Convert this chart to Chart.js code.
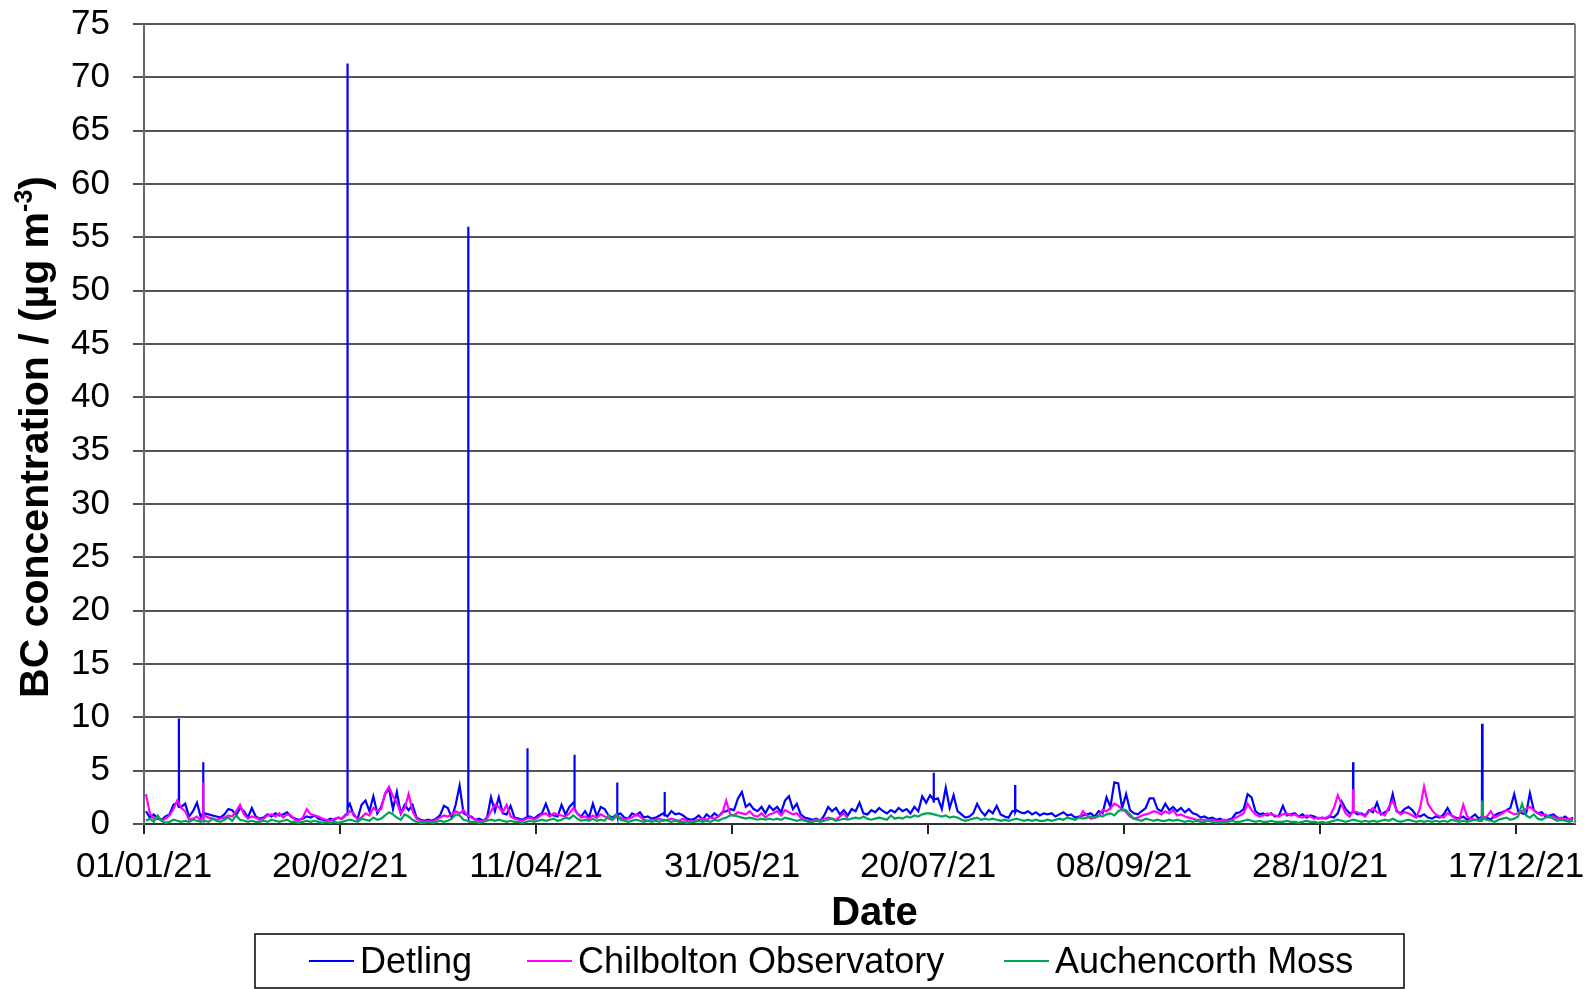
<!DOCTYPE html>
<html>
<head>
<meta charset="utf-8">
<script src="https://cdn.jsdelivr.net/npm/chart.js@4"></script>
<style>
  html, body { margin: 0; padding: 0; background: #fff; }
  #wrap { width: 1590px; height: 989px; position: relative; }
</style>
</head>
<body>
<div id="wrap"><canvas id="bcChart"></canvas></div>
<script>
// BC concentration 2021, day-of-year axis (0 = 01/01/21)
const tickDays = [0, 50, 100, 150, 200, 250, 300, 350];
const tickLabels = ["01/01/21", "20/02/21", "11/04/21", "31/05/21", "20/07/21", "08/09/21", "28/10/21", "17/12/21"];
const seriesNames = ["Detling", "Chilbolton Observatory", "Auchencorth Moss"];

// daily values, µg m-3
const detling = [
  1.2, 0.6, 0.9, 0.5, 0.4, 0.7, 0.9, 1.8, 2.0, 1.6,
  1.9, 0.7, 1.2, 2.0, 0.6, 1.0, 0.9, 0.8, 0.7, 0.6,
  0.9, 1.4, 1.3, 0.8, 1.5, 1.2, 0.6, 1.5, 0.7, 0.5,
  0.6, 0.9, 0.7, 1.0, 0.8, 0.9, 1.1, 0.7, 0.5, 0.4,
  0.5, 0.7, 0.6, 0.8, 0.5, 0.4, 0.3, 0.5, 0.4, 0.6,
  0.5, 0.9, 1.9, 0.8, 0.5, 1.8, 2.2, 1.2, 2.6, 1.0,
  1.6, 2.8, 3.3, 1.4, 3.0, 1.0, 1.8, 1.3, 1.8, 0.6,
  0.4, 0.3, 0.4, 0.3, 0.5, 0.8, 1.7, 1.5, 0.6, 1.8,
  3.6, 1.0, 0.8, 0.7, 0.4, 0.5, 0.3, 0.6, 2.5, 1.2,
  2.5, 1.0, 0.9, 1.7, 0.6, 0.5, 0.4, 0.6, 0.7, 0.5,
  0.8, 1.0, 1.9, 0.9, 0.8, 0.7, 1.8, 0.9, 1.6, 2.0,
  1.0, 0.7, 1.2, 0.6, 1.9, 0.7, 1.6, 1.4, 0.8, 0.6,
  0.9, 1.0, 0.6, 0.5, 1.0, 0.8, 1.1, 0.6, 0.7, 0.5,
  0.6, 0.8, 1.0, 0.7, 1.2, 0.9, 1.0, 0.8, 0.5, 0.4,
  0.5, 0.8, 0.4, 0.9, 0.6, 1.0, 0.7, 1.1, 1.2, 1.4,
  1.3, 2.4, 3.0, 1.6, 1.9, 1.4, 1.2, 1.6, 1.0, 1.7,
  1.3, 1.6, 1.1, 2.2, 2.6, 1.4, 1.9, 0.9, 0.6, 0.5,
  0.4, 0.5, 0.3, 0.8, 1.6, 1.2, 1.5, 0.9, 1.3, 0.8,
  1.4, 1.2, 2.0, 1.0, 0.9, 1.3, 1.1, 1.5, 1.2, 1.0,
  1.3, 1.1, 1.5, 1.2, 1.4, 1.0, 1.6, 1.2, 2.6, 2.0,
  2.7, 2.3, 2.4, 1.4, 3.4, 1.5, 2.7, 1.2, 0.9, 0.6,
  0.7, 1.0, 1.9, 1.2, 0.8, 1.3, 1.0, 1.7, 0.9, 0.7,
  0.6, 1.2, 1.3, 1.1, 1.0, 1.2, 0.9, 1.1, 0.8, 1.0,
  0.9, 1.0, 0.7, 0.9, 1.1, 0.8, 0.9, 0.6, 0.7, 0.8,
  0.9, 1.0, 0.7, 1.2, 1.0, 2.5, 1.6, 3.9, 3.8, 1.5,
  2.8, 1.3, 1.0, 0.9, 1.2, 1.5, 2.4, 2.4, 1.4, 1.2,
  1.9, 1.3, 1.6, 1.2, 1.5, 1.1, 1.4, 1.0, 0.9, 0.6,
  0.7, 0.5, 0.6, 0.4, 0.5, 0.3, 0.4, 0.5, 1.0, 1.1,
  1.4, 2.8, 2.5, 1.2, 0.9, 1.0, 0.8, 1.0, 0.7, 0.8,
  1.7, 0.8, 0.9, 1.0, 0.7, 0.9, 0.6, 0.8, 0.7, 0.5,
  0.6, 0.5, 0.7, 0.6, 1.0, 2.1, 1.4, 1.0, 1.2, 0.9,
  1.0, 0.8, 1.3, 1.1, 2.0, 0.9, 1.1, 1.3, 2.8, 1.2,
  1.0, 1.4, 1.6, 1.3, 0.8, 0.7, 0.9, 0.6, 0.5, 0.7,
  0.6, 0.9, 1.5, 0.8, 0.6, 0.5, 0.7, 0.4, 0.6, 0.9,
  0.5, 0.7, 0.6, 0.4, 0.8, 1.0, 1.1, 1.3, 1.5, 2.8,
  1.2, 1.0, 0.9, 2.9, 1.3, 1.0, 1.1, 0.7, 0.8, 0.9,
  0.6, 0.5, 0.7, 0.4, 0.6
];

// short hourly episodes: [day, value]
const detlingPeaks = [
  [8.86, 1.6], [8.9, 9.9], [8.94, 1.7],
  [15.06, 1.0], [15.1, 5.8], [15.14, 0.9],
  [51.86, 0.9], [51.9, 71.3], [51.94, 1.5],
  [82.66, 0.8], [82.7, 56.0], [82.74, 0.7],
  [97.76, 0.6], [97.8, 7.1], [97.84, 0.7],
  [109.76, 2.0], [109.8, 6.5], [109.84, 1.4],
  [120.66, 0.9], [120.7, 3.9], [120.74, 0.8],
  [132.76, 0.8], [132.8, 3.0], [132.84, 0.9],
  [201.36, 2.3], [201.4, 4.8], [201.44, 2.0],
  [222.16, 1.2], [222.2, 3.65], [222.24, 1.1],
  [308.36, 1.1], [308.4, 5.8], [308.44, 1.0],
  [341.26, 0.7], [341.3, 9.4], [341.34, 0.6]
];

const chilbolton = [
  2.8, 1.0, 0.5, 0.6, 0.3, 0.5, 0.8, 1.4, 2.2, 1.5,
  1.2, 0.4, 0.5, 0.7, 0.3, 0.8, 0.6, 0.5, 0.4, 0.5,
  0.6, 0.8, 0.7, 1.2, 1.8, 0.9, 0.5, 0.7, 0.6, 0.4,
  0.5, 0.8, 0.9, 0.7, 1.0, 0.6, 0.9, 0.8, 0.4, 0.3,
  0.6, 1.4, 0.9, 0.8, 0.7, 0.5, 0.4, 0.3, 0.5, 0.6,
  0.5, 0.8, 1.2, 1.0, 0.4, 0.6, 1.0, 0.8, 1.5, 1.2,
  1.4, 2.9, 3.5, 2.6, 2.0, 1.0, 1.5, 2.8, 1.2, 0.5,
  0.3, 0.2, 0.3, 0.2, 0.4, 0.6, 0.8, 0.7, 0.9, 1.2,
  1.0, 1.3, 0.8, 0.6, 0.4, 0.3, 0.3, 0.5, 1.2, 1.8,
  1.6, 1.1, 1.8, 0.7, 0.5, 0.4, 0.3, 0.5, 0.6, 0.4,
  0.6, 0.9, 1.0, 0.7, 1.0, 0.9, 0.8, 0.7, 1.0, 1.5,
  1.0, 0.6, 0.7, 0.5, 0.8, 0.6, 0.9, 0.7, 0.5, 0.4,
  0.7, 0.6, 0.4, 0.5, 0.6, 0.9, 0.7, 0.4, 0.3, 0.4,
  0.4, 0.5, 0.3, 0.4, 0.5, 0.4, 0.3, 0.5, 0.3, 0.2,
  0.3, 0.4, 0.5, 0.4, 0.6, 0.5, 0.7, 1.0, 2.2, 0.9,
  0.8, 1.1, 1.0, 0.9, 1.2, 0.8, 0.7, 1.0, 0.6, 0.9,
  1.0, 1.2, 0.8, 1.3, 1.1, 0.9, 1.0, 0.6, 0.4, 0.3,
  0.3, 0.4, 0.3, 0.5, 0.6, 0.5, 0.4, 0.7, 1.0, 0.5,
  null, null, null, null, null, null, null, null, null, null,
  null, null, null, null, null, null, null, null, null, null,
  null, null, null, null, null, null, null, null, null, null,
  null, null, null, null, null, null, null, null, null, null,
  null, null, null, null, null, null, null, null, null, null,
  null, null, null, null, null, null, null, null, 0.5, 1.2,
  0.8, 0.5, 0.6, 0.7, 1.3, 1.2, 1.5, 1.9, 1.7, 1.4,
  1.1, 0.7, 0.5, 0.6, 0.8, 0.9, 1.0, 1.2, 1.1, 0.9,
  1.2, 1.0, 1.3, 0.8, 0.9, 0.7, 0.6, 0.5, 0.4, 0.4,
  0.4, 0.3, 0.4, 0.3, 0.3, 0.4, 0.3, 0.4, 0.6, 0.8,
  1.0, 1.9, 1.3, 0.9, 0.7, 0.8, 1.0, 0.9, 0.8, 0.7,
  0.9, 1.0, 0.8, 0.9, 0.7, 0.6, 0.8, 0.7, 0.5, 0.6,
  0.5, 0.6, 0.8, 1.5, 2.7, 1.8, 1.0, 0.7, 1.2, 1.1,
  0.9, 0.7, 1.2, 1.5, 1.1, 1.0, 0.8, 1.6, 2.2, 1.3,
  0.9, 1.1, 1.0, 0.8, 0.6, 1.5, 3.5, 1.9, 1.3, 0.9,
  0.7, 0.6, 1.0, 0.8, 0.5, 0.4, 1.8, 0.7, 0.5, 0.4,
  0.4, 0.6, 0.7, 1.2, 0.6, 0.8, 1.0, 1.3, 1.1, 0.9,
  1.0, 1.2, 1.4, 1.6, 1.3, 1.0, 0.8, 0.9, 0.6, 0.7,
  0.5, 0.6, 0.4, 0.5, 0.4
];

const chilboltonPeaks = [
  [15.06, 0.8], [15.1, 3.9], [15.14, 0.7],
  [308.36, 1.2], [308.4, 3.25], [308.44, 1.1]
];

const auchencorth = [
  0.3, 0.5, 0.2, 0.8, 0.3, 0.1, 0.2, 0.4, 0.3, 0.2,
  0.3, 0.2, 0.4, 0.3, 0.2, 0.3, 0.2, 0.5, 0.3, 0.2,
  0.4, 0.6, 0.3, 0.8, 0.4, 0.3, 0.2, 0.3, 0.2, 0.2,
  0.3, 0.2, 0.4, 0.3, 0.2, 0.3, 0.4, 0.2, 0.2, 0.1,
  0.2, 0.3, 0.2, 0.3, 0.2, 0.1, 0.2, 0.1, 0.2, 0.1,
  0.2, 0.3, 0.4, 0.3, 0.2, 0.5, 0.4, 0.3, 0.6, 0.4,
  0.5, 0.8, 1.1, 0.9, 0.6, 0.4, 0.9, 0.7, 0.4, 0.2,
  0.1, 0.1, 0.2, 0.1, 0.2, 0.3, 0.2, 0.3, 0.5, 0.9,
  0.8, 0.4, 0.3, 0.2, 0.2, 0.1, 0.2, 0.3, 0.4, 0.3,
  0.4, 0.3, 0.2, 0.3, 0.2, 0.2, 0.1, 0.2, 0.3, 0.2,
  0.3, 0.4, 0.3, 0.4, 0.5, 0.3, 0.4, 0.6, 0.5, 0.8,
  0.5, 0.3, 0.4, 0.3, 0.5, 0.3, 0.4, 0.3, 0.8, 0.4,
  0.9, 0.4, 0.3, 0.2, 0.3, 0.4, 0.3, 0.2, 0.3, 0.2,
  0.3, 0.2, 0.4, 0.3, 0.2, 0.3, 0.2, 0.2, 0.1, 0.2,
  0.2, 0.3, 0.2, 0.3, 0.2, 0.4, 0.3, 0.5, 0.6, 0.8,
  0.8, 0.7, 0.6, 0.5, 0.6, 0.5, 0.4, 0.5, 0.4, 0.5,
  0.4, 0.5, 0.4, 0.6, 0.5, 0.4, 0.3, 0.4, 0.3, 0.2,
  0.2, 0.3, 0.2, 0.3, 0.4, 0.5, 0.3, 0.4, 0.5, 0.4,
  0.5, 0.6, 0.5, 0.7, 0.5, 0.4, 0.5, 0.6, 0.5, 0.4,
  0.8, 0.5, 0.6, 0.5, 0.7, 0.6, 0.8, 0.7, 0.9, 1.0,
  1.0, 0.9, 0.8, 0.7, 0.8, 0.6, 0.7, 0.6, 0.4, 0.3,
  0.4, 0.5, 0.6, 0.4, 0.5, 0.4, 0.5, 0.4, 0.3, 0.4,
  0.3, 0.4, 0.5, 0.4, 0.3, 0.4, 0.3, 0.4, 0.3, 0.3,
  0.4, 0.3, 0.4, 0.5, 0.4, 0.6, 0.5, 0.4, 0.6, 0.5,
  0.6, 0.7, 0.6, 0.8, 0.7, 0.9, 1.0, 0.8, 1.2, 1.4,
  1.3, 0.9, 0.5, 0.4, 0.3, 0.5, 0.4, 0.3, 0.4, 0.3,
  0.3, 0.4, 0.3, 0.4, 0.3, 0.2, 0.3, 0.2, 0.3, 0.2,
  0.2, 0.3, 0.2, 0.1, 0.2, 0.1, 0.2, 0.3, 0.2, 0.2,
  0.3, 0.4, 0.3, 0.2, 0.3, 0.2, 0.2, 0.3, 0.2, 0.2,
  0.2, 0.3, 0.2, 0.2, 0.1, 0.2, 0.3, 0.2, 0.2, 0.1,
  0.2, 0.1, 0.2, 0.3, 0.4, 0.3, 0.2, 0.3, 0.4, 0.3,
  0.2, 0.3, 0.2, 0.3, 0.2, 0.3, 0.4, 0.3, 0.5, 0.3,
  0.2, 0.3, 0.4, 0.3, 0.2, 0.3, 0.2, 0.3, 0.2, 0.3,
  0.2, 0.3, 0.2, 0.4, 0.3, 0.2, 0.3, 0.2, 0.3, 0.4,
  0.3, 0.5, 0.4, 0.3, 0.2, 0.4, 0.5, 0.6, 0.4, 0.5,
  0.7, 1.9, 0.8, 0.6, 0.9, 0.5, 0.4, 0.6, 0.7, 0.5,
  0.3, 0.4, 0.3, 0.2, 0.3
];

const auchencorthPeaks = [
  [341.26, 0.3], [341.3, 2.2], [341.34, 0.4]
];

const seriesColors = ["#0000FF", "#FF00FF", "#00A651"];

const FONT = "'Liberation Sans', Arial, sans-serif";
Chart.defaults.font.family = FONT;
Chart.defaults.color = "#000";

// daily values sit at mid-day, hourly peaks slot in between
function toPoints(daily, peaks) {
  const pts = daily.map((v, i) => ({ x: i + 0.5, y: v }));
  peaks.forEach(([x, y]) => pts.push({ x, y }));
  return pts.sort((a, b) => a.x - b.x);
}

const allDaily = [detling, chilbolton, auchencorth];
const allPeaks = [detlingPeaks, chilboltonPeaks, auchencorthPeaks];

const datasets = seriesNames.map((name, i) => ({
  label: name,
  data: toPoints(allDaily[i], allPeaks[i]),
  borderColor: seriesColors[i],
  backgroundColor: seriesColors[i],
  borderWidth: 2.2,
  pointRadius: 0,
  tension: 0,
  spanGaps: false,
  order: 3 - i
}));

// frame, axis titles and boxed legend
const decorations = {
  id: "decorations",
  beforeDraw(chart) {
    const ctx = chart.ctx;
    ctx.save();
    ctx.fillStyle = "#fff";
    ctx.fillRect(0, 0, chart.width, chart.height);
    ctx.restore();
  },
  afterDraw(chart) {
    const { ctx, chartArea } = chart;
    ctx.save();

    // right edge of the plot
    ctx.strokeStyle = "#808080";
    ctx.lineWidth = 2;
    ctx.beginPath();
    ctx.moveTo(chartArea.right, chartArea.top);
    ctx.lineTo(chartArea.right, chartArea.bottom);
    ctx.stroke();

    // y title with superscript
    ctx.fillStyle = "#000";
    ctx.textBaseline = "middle";
    const main = "BC concentration / (\u00b5g m";
    const sup = "-3";
    const tail = ")";
    const bold = "bold 41px " + FONT;
    const supFont = "bold 25px " + FONT;
    ctx.font = bold;
    const wMain = ctx.measureText(main).width;
    const wTail = ctx.measureText(tail).width;
    ctx.font = supFont;
    const wSup = ctx.measureText(sup).width;
    const total = wMain + wSup + wTail;
    ctx.translate(37, (chartArea.top + chartArea.bottom) / 2 + 13);
    ctx.rotate(-Math.PI / 2);
    let x = -total / 2;
    ctx.textAlign = "left";
    ctx.font = bold;
    ctx.fillText(main, x, 0);
    x += wMain;
    ctx.font = supFont;
    ctx.fillText(sup, x, -12);
    x += wSup;
    ctx.font = bold;
    ctx.fillText(tail, x, 0);
    ctx.setTransform(1, 0, 0, 1, 0, 0);

    // x title
    ctx.font = "bold 40px " + FONT;
    ctx.textAlign = "center";
    ctx.fillText("Date", (chartArea.left + chartArea.right) / 2 + 15, 914);

    // legend
    ctx.strokeStyle = "#000";
    ctx.lineWidth = 1.5;
    ctx.strokeRect(255, 934, 1149, 54);
    const itemX = [309, 527, 1004];
    ctx.font = "36px " + FONT;
    ctx.textAlign = "left";
    ctx.textBaseline = "alphabetic";
    seriesNames.forEach((name, i) => {
      ctx.strokeStyle = seriesColors[i];
      ctx.lineWidth = 2;
      ctx.beginPath();
      ctx.moveTo(itemX[i], 961);
      ctx.lineTo(itemX[i] + 45, 961);
      ctx.stroke();
      ctx.fillStyle = "#000";
      ctx.fillText(name, itemX[i] + 51, 973);
    });
    ctx.restore();
  }
};

new Chart(document.getElementById("bcChart"), {
  type: "line",
  data: { datasets },
  plugins: [decorations],
  options: {
    responsive: true,
    maintainAspectRatio: false,
    animation: false,
    events: [],
    layout: { padding: { top: 24, right: 15, left: 0, bottom: 0 } },
    plugins: {
      legend: { display: false },
      tooltip: { enabled: false }
    },
    scales: {
      x: {
        type: "linear",
        min: 0,
        max: 365,
        afterBuildTicks: (scale) => {
          scale.ticks = tickDays.map((v) => ({ value: v }));
        },
        afterFit: (scale) => {
          scale.height = 165;
          scale.paddingLeft = 0;
          scale.paddingRight = 0;
        },
        ticks: {
          autoSkip: false,
          maxRotation: 0,
          padding: 12,
          font: { size: 35 },
          color: "#000",
          callback: (value, index) => tickLabels[index]
        },
        grid: {
          drawOnChartArea: false,
          drawTicks: true,
          tickLength: 10,
          color: "#222",
          lineWidth: 2
        },
        border: { display: true, color: "#333", width: 2 }
      },
      y: {
        min: 0,
        max: 75,
        afterFit: (scale) => {
          scale.width = 144;
          scale.paddingTop = 0;
          scale.paddingBottom = 0;
        },
        ticks: {
          stepSize: 5,
          padding: 23,
          font: { size: 35 },
          color: "#000"
        },
        grid: {
          color: "#555",
          lineWidth: 2,
          tickLength: 11
        },
        border: { display: true, color: "#666", width: 2 }
      }
    }
  }
});
</script>
</body>
</html>
